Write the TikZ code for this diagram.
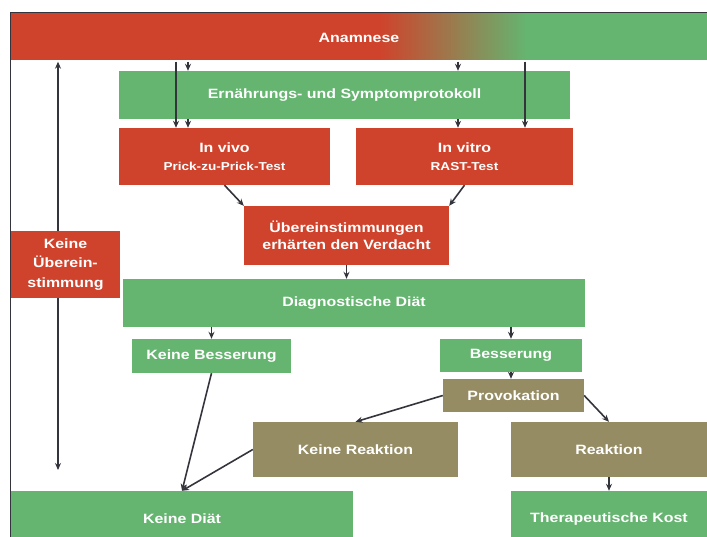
\documentclass[tikz,border=0pt]{standalone}
\usepackage{fontspec}
\setmainfont{Liberation Sans}[FakeStretch=1.18]
\usetikzlibrary{arrows.meta}
\definecolor{anred}{RGB}{207,67,44}
\definecolor{angreen}{RGB}{101,180,112}
\definecolor{anolive}{RGB}{150,140,100}
\definecolor{anline}{RGB}{52,52,60}
\tikzset{
  box/.style={inner sep=0pt,text=white,align=center,font=\bfseries\fontsize{13.5}{17.5}\selectfont},
  redbox/.style={box,fill=anred},
  greenbox/.style={box,fill=angreen},
  olivebox/.style={box,fill=anolive},
  arr/.style={draw=anline,line width=1.6pt,-{Stealth[length=7pt,width=6pt]}},
  twoarr/.style={draw=anline,line width=1.6pt,{Stealth[length=7pt,width=6pt]}-{Stealth[length=7pt,width=6pt]}}
}
\newcommand{\smalltxt}[1]{{\fontsize{11.5}{15}\selectfont #1}}
\begin{document}
\begin{tikzpicture}[x=1pt,y=-1pt]
\useasboundingbox (0,0) rectangle (707,537);
\fill[white] (0,0) rectangle (707,537);
% Drawing the top bar
\fill[anred] (11,13) rectangle (381,60);
\shade[left color=anred,right color=angreen] (380,13) rectangle (526,60);
\fill[angreen] (525,13) rectangle (707,60);
\node[box,minimum width=696,minimum height=47] (anamnese) at (359,38) {Anamnese};
% Line left: back to Anamnese
\coordinate (leftend) at (58,470);
\draw[twoarr] (anamnese.south -| leftend) -- (leftend);
% Drawing boxes
\node[greenbox,minimum width=451,minimum height=48] (proto) at (344.5,95) {Ernährungs- und Symptomprotokoll};
\node[redbox,minimum width=211,minimum height=57] (vivo) at (224.5,156.5) {In vivo\\\smalltxt{Prick-zu-Prick-Test}};
\node[redbox,minimum width=217,minimum height=57] (vitro) at (464.5,156.5) {In vitro\\\smalltxt{RAST-Test}};
\node[redbox,minimum width=205,minimum height=59] (ueber) at (346.5,235.5) {Übereinstimmungen\\erhärten den Verdacht};
\node[redbox,minimum width=109,minimum height=67,font=\bfseries\fontsize{13.5}{19.5}\selectfont] (keineueber) at (65.5,264.5) {Keine\\Überein-\\stimmung};
\node[greenbox,minimum width=462,minimum height=48] (diaet) at (354,303) {Diagnostische Diät};
\node[greenbox,minimum width=159,minimum height=34] (keinebess) at (211.5,356) {Keine Besserung};
\node[greenbox,minimum width=142,minimum height=33] (bess) at (511,355.5) {Besserung};
\node[olivebox,minimum width=141,minimum height=33] (provo) at (513.5,395.5) {Provokation};
\node[olivebox,minimum width=205,minimum height=55] (keinereak) at (355.5,449.5) {Keine Reaktion};
\node[olivebox,minimum width=196,minimum height=55] (reak) at (609,449.5) {Reaktion};
\node[greenbox,minimum width=342,minimum height=56] (keinediaet) at (182,519) {Keine Diät};
\node[greenbox,minimum width=196,minimum height=56] (therapie) at (609,519) {Therapeutische Kost};
% Drawing arrows
\coordinate (c1) at (176,0);
\coordinate (c2) at (188,0);
\coordinate (c3) at (458,0);
\coordinate (c4) at (525,0);
\draw[arr] (anamnese.south -| c1) -- (vivo.north -| c1);
\draw[arr] (anamnese.south -| c2) -- (proto.north -| c2);
\draw[arr] (proto.south -| c2) -- (vivo.north -| c2);
\draw[arr] (anamnese.south -| c3) -- (proto.north -| c3);
\draw[arr] (proto.south -| c3) -- (vitro.north -| c3);
\draw[arr] (anamnese.south -| c4) -- (vitro.north -| c4);
\draw[arr] (vivo.south) -- (ueber.north west);
\draw[arr] (vitro.south) -- (ueber.north east);
\draw[arr] (ueber.south) -- (ueber.south |- diaet.north);
\draw[arr] (keinebess.north |- diaet.south) -- (keinebess.north);
\draw[arr] (bess.north |- diaet.south) -- (bess.north);
\draw[arr] (bess.south) -- (bess.south |- provo.north);
\draw[arr] (provo.west) -- (keinereak.north);
\draw[arr] (provo.east) -- (reak.north);
\draw[arr] (keinebess.south) -- (keinediaet.north);
\draw[arr] (keinereak.west) -- (keinediaet.north);
\draw[arr] (reak.south) -- (therapie.north);
% Drawing the frame
\draw[anline,line width=1.2pt] (10.5,537) -- (10.5,12.5) -- (707,12.5);
\end{tikzpicture}
\end{document}
